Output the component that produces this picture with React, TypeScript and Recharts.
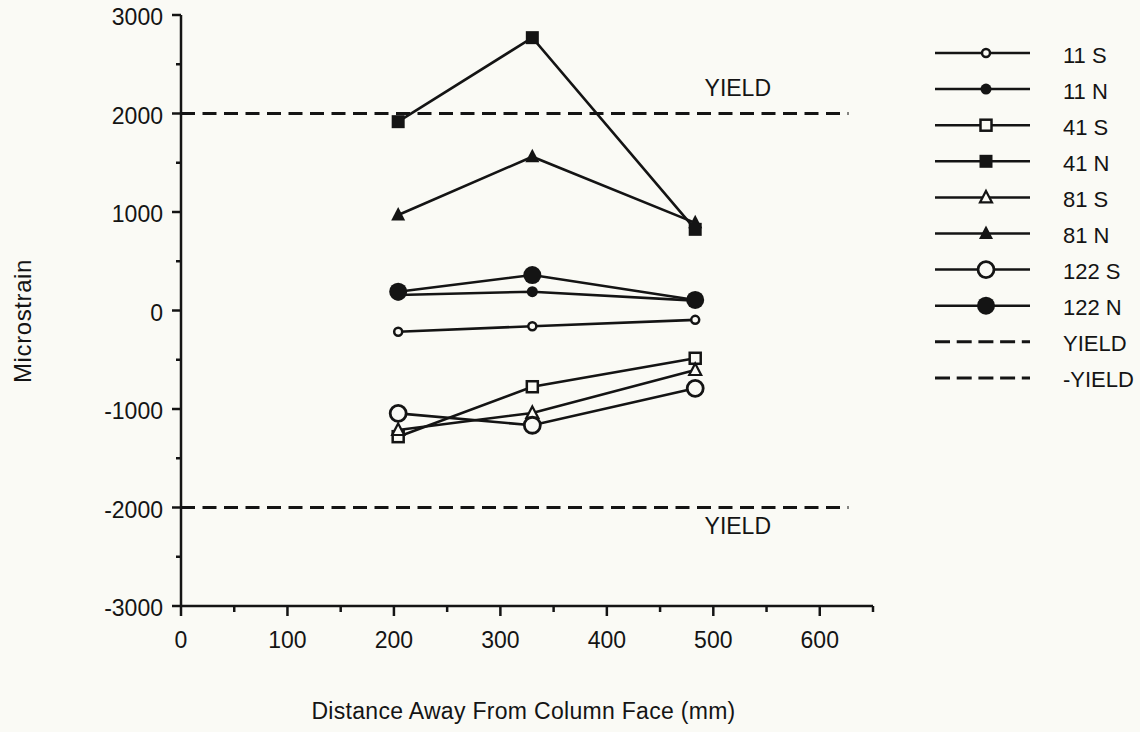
import React from "react";
import {
  LineChart,
  Line,
  XAxis,
  YAxis,
  Legend,
  ReferenceDot,
} from "recharts";

// ---- data ----
const distances = [204, 330, 483];
const s11S = [-215, -160, -95];
const s11N = [157, 191, 100];
const s41S = [-1281, -774, -485];
const s41N = [1917, 2770, 824];
const s81S = [-1213, -1040, -604];
const s81N = [970, 1561, 890];
const s122S = [-1044, -1165, -790];
const s122N = [191, 360, 107];

const yieldX = [0, 627];
const yieldPos = [2000, 2000];
const yieldNeg = [-2000, -2000];

const xTicks = [0, 50, 100, 150, 200, 250, 300, 350, 400, 450, 500, 550, 600, 650];
const yTicks = [-3000, -2500, -2000, -1500, -1000, -500, 0, 500, 1000, 1500, 2000, 2500, 3000];

const seriesNames = ["11 S", "11 N", "41 S", "41 N", "81 S", "81 N", "122 S", "122 N"];
const seriesValues = [s11S, s11N, s41S, s41N, s81S, s81N, s122S, s122N];
const seriesMarkers = [
  "circleOpenSmall",
  "circleFilledSmall",
  "squareOpen",
  "squareFilled",
  "triangleOpen",
  "triangleFilled",
  "circleOpenLarge",
  "circleFilledLarge",
];
const legendOrder = [...seriesNames, "YIELD", "-YIELD"];

const INK = "#141414";
const BG = "#fafaf5";
const FONT = '"Liberation Sans", Arial, Helvetica, sans-serif';

const toPoints = (xs: number[], ys: number[]) => xs.map((x, i) => ({ x, y: ys[i] }));

function Marker({ kind, cx, cy }: { kind: string; cx: number; cy: number }) {
  switch (kind) {
    case "circleOpenSmall":
      return <circle cx={cx} cy={cy} r={4} fill={BG} stroke={INK} strokeWidth={2.5} />;
    case "circleFilledSmall":
      return <circle cx={cx} cy={cy} r={5.5} fill={INK} />;
    case "squareOpen":
      return <rect x={cx - 5.5} y={cy - 5.5} width={11} height={11} fill={BG} stroke={INK} strokeWidth={2.5} />;
    case "squareFilled":
      return <rect x={cx - 6.5} y={cy - 6.5} width={13} height={13} fill={INK} />;
    case "triangleOpen":
      return (
        <polygon
          points={`${cx},${cy - 6.5} ${cx + 6},${cy + 5} ${cx - 6},${cy + 5}`}
          fill={BG}
          stroke={INK}
          strokeWidth={2.2}
        />
      );
    case "triangleFilled":
      return <polygon points={`${cx},${cy - 8} ${cx + 7},${cy + 5.5} ${cx - 7},${cy + 5.5}`} fill={INK} />;
    case "circleOpenLarge":
      return <circle cx={cx} cy={cy} r={8} fill={BG} stroke={INK} strokeWidth={2.8} />;
    case "circleFilledLarge":
      return <circle cx={cx} cy={cy} r={9} fill={INK} />;
    default:
      return null;
  }
}

const XTick = (props: any) => {
  const { x, y, payload } = props;
  const major = payload.value % 100 === 0;
  return (
    <g>
      <line x1={x} x2={x} y1={y} y2={y + (major ? 10 : 6)} stroke={INK} strokeWidth={2.5} />
      {major && (
        <text
          x={x}
          y={y + 34}
          textAnchor="middle"
          dominantBaseline="central"
          fontSize={23}
          fontFamily={FONT}
          fill={INK}
        >
          {payload.value}
        </text>
      )}
    </g>
  );
};

const YTick = (props: any) => {
  const { x, y, payload } = props;
  const major = payload.value % 1000 === 0;
  return (
    <g>
      <line x1={x} x2={x - (major ? 9 : 5)} y1={y} y2={y} stroke={INK} strokeWidth={2.5} />
      {major && (
        <text
          x={x - 18}
          y={y + 2}
          textAnchor="end"
          dominantBaseline="central"
          fontSize={23}
          fontFamily={FONT}
          fill={INK}
        >
          {payload.value}
        </text>
      )}
    </g>
  );
};

const LegendContent = (props: any) => {
  const payload: any[] = props.payload || [];
  const ordered = legendOrder
    .map((n) => payload.find((e: any) => e.value === n))
    .filter(Boolean);
  return (
    <svg width={210} height={36 * ordered.length + 10} style={{ display: "block", overflow: "visible" }}>
      {ordered.map((entry: any, i: number) => {
        const name = entry.value;
        const idx = seriesNames.indexOf(name);
        const cy = 18 + i * 36.1;
        return (
          <g key={name}>
            {idx >= 0 ? (
              <>
                <line x1={5} x2={100} y1={cy} y2={cy} stroke={INK} strokeWidth={2.5} />
                <Marker kind={seriesMarkers[idx]} cx={56} cy={cy} />
              </>
            ) : (
              <line x1={5} x2={100} y1={cy} y2={cy} stroke={INK} strokeWidth={3} strokeDasharray="15 6.7" />
            )}
            <text x={133} y={cy + 2} dominantBaseline="central" fontSize={22} fontFamily={FONT} fill={INK}>
              {name}
            </text>
          </g>
        );
      })}
    </svg>
  );
};

export default function App() {
  return (
    <div style={{ position: "absolute", left: 0, top: 0, width: 1140, height: 732, background: BG }}>
      <LineChart width={1140} height={732} margin={{ top: 15, right: 267, bottom: 0, left: 81 }}>
        <XAxis
          type="number"
          dataKey="x"
          domain={[0, 650]}
          ticks={xTicks}
          interval={0}
          tickSize={0}
          tickMargin={0}
          tickLine={false}
          tick={<XTick />}
          height={126}
          axisLine={{ stroke: INK, strokeWidth: 2.5 }}
          label={(p: any) => (
            <text
              x={523.5}
              y={718.5}
              textAnchor="middle"
              fontSize={23}
              fontFamily={FONT}
              fill={INK}
              letterSpacing={0.3}
            >
              Distance Away From Column Face (mm)
            </text>
          )}
        />
        <YAxis
          type="number"
          dataKey="y"
          domain={[-3000, 3000]}
          ticks={yTicks}
          interval={0}
          tickSize={0}
          tickMargin={0}
          tickLine={false}
          tick={<YTick />}
          width={100}
          axisLine={{ stroke: INK, strokeWidth: 2.5 }}
          label={(p: any) => (
            <text
              x={22.5}
              y={321}
              transform="rotate(-90 22.5 321)"
              textAnchor="middle"
              dominantBaseline="central"
              fontSize={24}
              fontFamily={FONT}
              fill={INK}
              letterSpacing={0.6}
            >
              Microstrain
            </text>
          )}
        />
        <Line
          name="YIELD"
          data={toPoints(yieldX, yieldPos)}
          dataKey="y"
          type="linear"
          stroke={INK}
          strokeWidth={3}
          strokeDasharray="14 7.5"
          dot={false}
          activeDot={false}
          isAnimationActive={false}
        />
        <Line
          name="-YIELD"
          data={toPoints(yieldX, yieldNeg)}
          dataKey="y"
          type="linear"
          stroke={INK}
          strokeWidth={3}
          strokeDasharray="14 7.5"
          dot={false}
          activeDot={false}
          isAnimationActive={false}
        />
        {seriesNames.map((name, si) => (
          <Line
            key={name}
            name={name}
            data={toPoints(distances, seriesValues[si])}
            dataKey="y"
            type="linear"
            stroke={INK}
            strokeWidth={2.6}
            isAnimationActive={false}
            dot={(p: any) => (
              <Marker key={`${name}-${p.index}`} kind={seriesMarkers[si]} cx={p.cx} cy={p.cy} />
            )}
            activeDot={false}
          />
        ))}
        <ReferenceDot
          x={523}
          y={2264}
          r={0}
          fill="none"
          stroke="none"
          label={{ value: "YIELD", position: "center", fontSize: 23, fontFamily: FONT, fill: INK }}
        />
        <ReferenceDot
          x={523}
          y={-2188}
          r={0}
          fill="none"
          stroke="none"
          label={{ value: "YIELD", position: "center", fontSize: 23, fontFamily: FONT, fill: INK }}
        />
        <Legend
          layout="vertical"
          align="center"
          verticalAlign="middle"
          content={<LegendContent />}
          wrapperStyle={{ position: "absolute", left: 930, top: 35, width: 210 }}
        />
      </LineChart>
    </div>
  );
}
